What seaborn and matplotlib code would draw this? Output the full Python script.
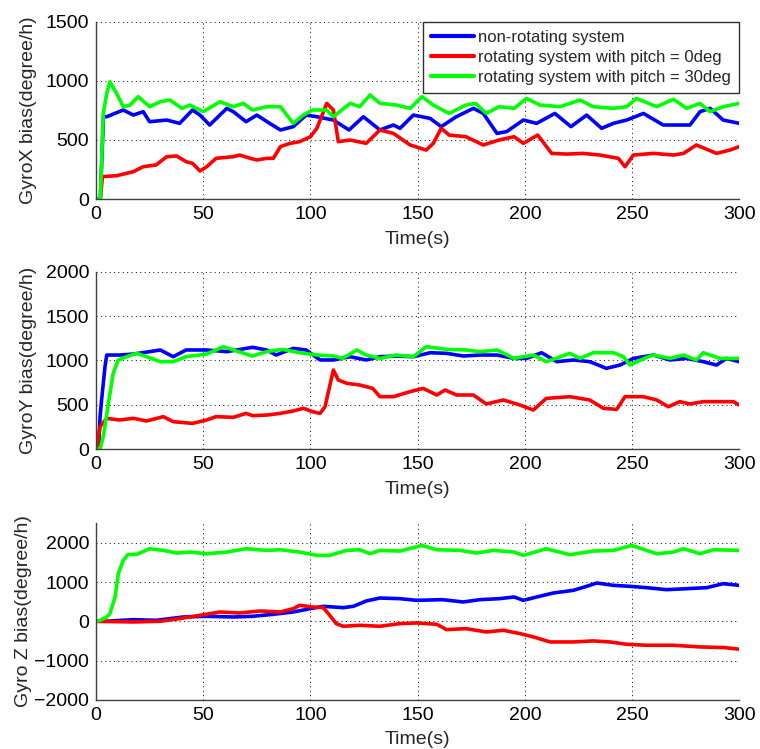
import matplotlib
matplotlib.use("Agg")
import matplotlib.pyplot as plt
import seaborn as sns
import pandas as pd

# ---------------- data ----------------
# GyroX
gx_blue_t = [0, 2, 3.5, 5, 12.7, 17.4, 22, 25, 33, 39, 45, 48.5, 53, 61, 64, 70, 75, 81, 86, 92, 98, 103,
             110.7, 118, 124.7, 132.4, 138.7, 141.8, 148, 155.8, 161, 168, 176, 180.6, 187, 191.5, 199.3,
             205.5, 214, 221.5, 228.8, 235.8, 241.3, 247.5, 255.3, 264.5, 277, 281.7, 286.4, 292.5, 300]
gx_blue_v = [0, 0, 700, 696, 753, 710, 739, 654, 668, 640, 753, 710, 626, 767, 739, 654, 710, 640, 584, 612, 710, 696,
             668, 584, 696, 584, 626, 598, 710, 682, 612, 696, 767, 724, 555, 570, 668,
             640, 724, 612, 710, 598, 640, 668, 724, 626, 626, 739, 767, 668, 640]

gx_red_t = [0, 2, 3, 9.6, 17.4, 22, 28, 33, 37.6, 42, 45, 48.5, 51.6, 56, 64, 67, 72, 75, 79.6, 82.7, 86, 90.5,
            95, 100, 103, 107.6, 110.7, 113, 118.5, 126, 132.4, 138.7, 146.5, 154, 157.3, 161, 164.7, 172.5,
            180.6, 188, 195, 199.3, 206, 212.5, 219.5, 227, 235, 243.6, 246.7, 250.6, 260, 269.3, 274, 280,
            289.4, 295.6, 300]
gx_red_v = [0, 0, 189, 197, 231, 273, 288, 358, 364, 316, 302, 237, 273, 344, 358, 372, 344, 330, 344, 344, 443, 471,
            485, 527, 598, 809, 753, 485, 499, 471, 584, 555, 457, 414, 471, 598, 541, 527,
            457, 499, 527, 471, 541, 386, 380, 386, 372, 344, 273, 372, 386, 372, 386, 457,
            386, 414, 443]

gx_green_t = [0, 2, 3.4, 5, 6.5, 9.6, 12.7, 15.9, 19.7, 25, 30, 34.5, 40, 43.8, 50, 57.8, 64, 68.7, 73, 79.6, 86,
              92, 96.7, 101, 107.6, 110.7, 118.5, 123, 127.8, 132.5, 140, 146.5, 152, 157.3, 164.7, 172.5, 177,
              182, 188, 195, 200.8, 207, 216.4, 225.7, 231.9, 241.3, 247.5, 252, 261.5, 269.3, 275.5, 281.7,
              286.4, 292.5, 300]
gx_green_v = [0, 0, 724, 894, 992, 894, 781, 795, 866, 781, 823, 837, 767, 795, 739, 823, 781, 809, 753, 781, 781,
              640, 710, 753, 753, 696, 809, 781, 880, 809, 795, 767, 866, 795, 724, 795, 809,
              724, 781, 767, 851, 795, 781, 837, 781, 767, 781, 851, 781, 844, 767, 809,
              739, 781, 809]

# GyroY
gy_blue_t = [0, 1.2, 1.9, 2.6, 4.2, 5, 11, 17.4, 25, 30, 36, 42, 51.6, 61, 73, 79.6, 84, 92, 98, 104.5, 110.7,
             118.5, 126, 132.4, 140, 148, 155.8, 163.5, 171.3, 179, 187, 195, 200.8, 207.8, 214.9, 222.6, 230.3,
             238, 244.4, 250.6, 260, 267.7, 275.5, 283.2, 289.4, 294, 300]
gy_blue_v = [0, 0, 365, 553, 929, 1060, 1060, 1071, 1098, 1117, 1041, 1117, 1117, 1098, 1147, 1117, 1060, 1135, 1117,
             1004, 1004, 1041, 1004, 1041, 1049, 1041, 1086, 1079, 1049, 1060, 1060, 1022, 1022, 1086, 985, 1004,
             985, 910, 947, 1022, 1060, 1004, 1022, 985, 947, 1022, 985]

gy_red_t = [0, 0.6, 1.1, 1.9, 5, 11, 17.4, 23.6, 31.4, 36, 45, 51.6, 56, 64, 70, 73, 79.6, 86, 92, 96.7, 101,
            104.5, 106.8, 110.7, 113, 117, 123, 129, 132.4, 138.7, 146.5, 152.6, 158.9, 162.8, 168.2, 176, 182,
            190, 197.7, 204, 210, 221, 230.3, 236.6, 242.8, 246.7, 255.3, 261.5, 266.9, 272.3, 277, 283.2,
            297.2, 300]
gy_red_v = [0, 0, 139, 252, 346, 327, 346, 316, 365, 308, 289, 327, 365, 357, 402, 376, 383, 402, 429, 459, 421,
            402, 477, 891, 778, 741, 722, 684, 590, 590, 647, 684, 609, 665, 609, 609, 508,
            553, 496, 440, 571, 590, 553, 459, 447, 590, 590, 553, 477, 534, 508, 534,
            534, 496]

gy_green_t = [0, 1.9, 3.4, 5.8, 8, 10.4, 14.3, 19, 23.6, 30, 36, 42, 51.6, 59.4, 64, 73, 79.6, 87, 95, 103, 110.7,
              115, 121.6, 126, 132.4, 140, 148, 154, 163.5, 172.5, 179, 187, 195, 199.3, 204, 210, 221, 225.7,
              231.9, 241.3, 246, 249, 256.8, 260, 267.7, 274, 280, 283.2, 291, 300]
gy_green_v = [0, 0, 139, 515, 853, 1004, 1041, 1079, 1041, 985, 985, 1041, 1071, 1154, 1117, 1049, 1098, 1124, 1086,
              1060, 1049, 1022, 1117, 1060, 1022, 1060, 1041, 1154, 1124, 1117, 1098, 1117, 1022, 1041, 1060,
              985, 1079, 1022, 1086, 1086, 1041, 947, 1034, 1060, 1022, 1060, 1004, 1086, 1022, 1022]

# Gyro Z
gz_blue_t = [0, 4, 17.4, 28, 40.7, 51.6, 64, 73, 82.7, 92, 100, 106, 110.7, 115.3, 120, 126, 132.4, 141.8, 149.5,
             161.5, 171.3, 179, 188, 195, 199.3, 205.5, 213.3, 222.6, 228.8, 233.5, 241.3, 249, 256.8, 266,
             275.5, 284.8, 292.5, 300]
gz_blue_v = [0, 0, 42, 25, 110, 127, 110, 127, 178, 238, 323, 382, 365, 348, 382, 518, 594, 577, 535,
             552, 493, 552, 577, 620, 535, 620, 722, 790, 892, 977, 917, 892, 858, 807,
             832, 858, 960, 917]

gz_red_t = [0, 17.4, 30, 39, 48.5, 57.8, 67, 76.5, 86, 92, 95, 101, 106, 109, 112, 115.3, 123, 132.4, 141.8,
            149.5, 158.9, 163.5, 172.5, 182, 190, 197.7, 204, 211.8, 222.6, 231.9, 239.7, 247.5, 256.8, 269.3,
            281.7, 293.2, 300]
gz_red_v = [0, -17, 0, 68, 153, 238, 212, 263, 238, 323, 408, 365, 348, 153, -59, -127, -102, -127, -59,
            -42, -76, -212, -187, -272, -229, -314, -399, -527, -527, -501, -527, -586, -611, -611,
            -654, -671, -713]

gz_green_t = [0, 1.9, 5, 6.5, 8.9, 10.4, 12.7, 15, 19, 25, 31.4, 37.6, 43.8, 51.6, 61, 70, 79.6, 86, 95, 103,
              109, 117, 123, 127.8, 132.4, 141.8, 152, 158.9, 169.7, 177.5, 185.3, 195, 199.3, 210, 221, 231.9,
              241.3, 249.8, 261.5, 269.3, 274, 281.7, 287.9, 300]
gz_green_v = [0, 25, 110, 195, 620, 1214, 1554, 1707, 1707, 1851, 1809, 1741, 1766, 1724, 1766, 1851, 1809, 1826,
              1766, 1682, 1682, 1809, 1826, 1724, 1809, 1792, 1936, 1826, 1809, 1741, 1809, 1766, 1682, 1851,
              1699, 1792, 1809, 1936, 1724, 1766, 1851, 1724, 1826, 1809]

series_labels = ["non-rotating system",
                 "rotating system with pitch = 0deg",
                 "rotating system with pitch = 30deg"]
xticks = [0, 50, 100, 150, 200, 250, 300]
panel_ylabels = ["GyroX bias(degree/h)", "GyroY bias(degree/h)", "Gyro Z bias(degree/h)"]
panel_yticks = [[0, 500, 1000, 1500], [0, 500, 1000, 1500, 2000], [-2000, -1000, 0, 1000, 2000]]
panel_ylims = [(0, 1500), (0, 2000), (-2000, 2500)]
xlabel_text = "Time(s)"

panels = [
    [(gx_blue_t, gx_blue_v), (gx_red_t, gx_red_v), (gx_green_t, gx_green_v)],
    [(gy_blue_t, gy_blue_v), (gy_red_t, gy_red_v), (gy_green_t, gy_green_v)],
    [(gz_blue_t, gz_blue_v), (gz_red_t, gz_red_v), (gz_green_t, gz_green_v)],
]

# ---------------- styling ----------------
sns.set_style("white")
plt.rcParams["font.family"] = ["Liberation Sans", "DejaVu Sans"]

colors = ["#0000ff", "#ff0000", "#00ff00"]
axis_color = "#404040"

fig = plt.figure(figsize=(7.60, 7.49), dpi=100)
left, width = 96 / 760, 643.3 / 760
boxes = [
    (left, (749 - 199) / 749, width, 177.3 / 749),
    (left, (749 - 449) / 749, width, 177.3 / 749),
    (left, (749 - 699.7) / 749, width, 176.4 / 749),
]
ylabel_x = [-0.092, -0.092, -0.100]

for i, (box, series) in enumerate(zip(boxes, panels)):
    ax = fig.add_axes(box)
    for j, (t, v) in enumerate(series):
        df = pd.DataFrame({"t": t, "v": v})
        sns.lineplot(data=df, x="t", y="v", ax=ax, color=colors[j], linewidth=2.6,
                     label=series_labels[j] if i == 0 else None, legend=False, sort=False)
    ax.set_xlim(0, 300)
    ax.set_ylim(*panel_ylims[i])
    ax.set_xticks(xticks)
    ax.set_yticks(panel_yticks[i])
    ax.grid(True, linestyle=(0, (1, 3.2)), color="#202020", linewidth=0.75)
    for side in ["top", "right"]:
        ax.spines[side].set_visible(False)
    for side in ["left", "bottom"]:
        ax.spines[side].set_color(axis_color)
        ax.spines[side].set_linewidth(1.0)
    ax.tick_params(axis="both", direction="in", length=4, width=0.8, color=axis_color,
                   labelsize=14, pad=5, labelcolor="black")
    ax.set_xlabel(xlabel_text, fontsize=14)
    ax.set_ylabel(panel_ylabels[i], fontsize=14)
    ax.xaxis.set_label_coords(0.5, -0.18)
    ax.yaxis.set_label_coords(ylabel_x[i], 0.5)
    if i == 0:
        handles, labels = ax.get_legend_handles_labels()
        leg = ax.legend(handles, labels, loc="upper right", bbox_to_anchor=(1.0, 1.0),
                        borderaxespad=0.0, fontsize=12, frameon=True, fancybox=False,
                        framealpha=1.0, edgecolor="#303030", handlelength=2.6,
                        handletextpad=0.25, labelspacing=0.30, borderpad=0.48)
        leg.get_frame().set_linewidth(1.0)
        for line in leg.get_lines():
            line.set_linewidth(3.0)

fig.savefig("out.png", dpi=100, facecolor="white")
